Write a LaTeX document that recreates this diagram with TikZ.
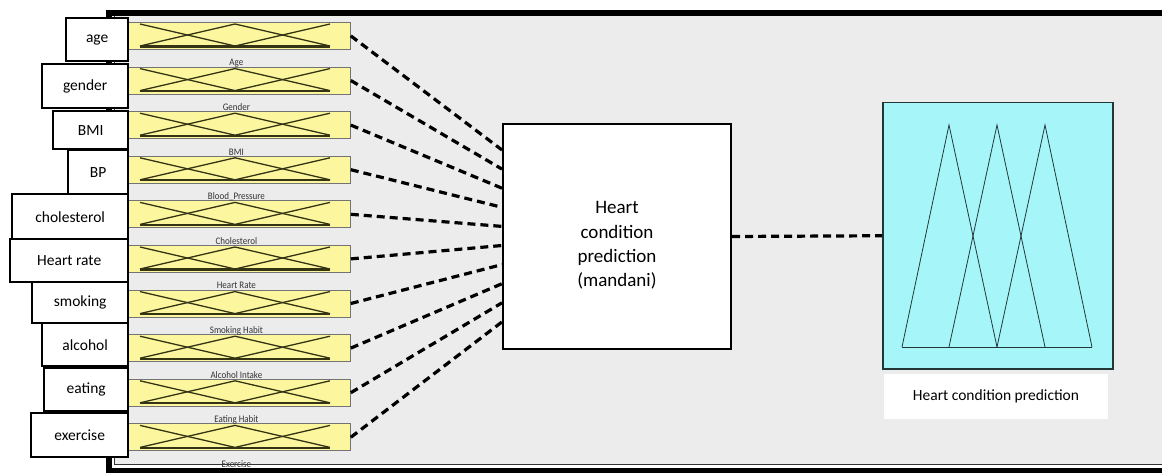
\documentclass[tikz,border=0pt]{standalone}
\usepackage{fontspec}
\setmainfont{Carlito}
\usetikzlibrary{calc}
\definecolor{panelgray}{RGB}{236,236,236}
\definecolor{mfyellow}{RGB}{252,247,158}
\definecolor{mfline}{RGB}{52,52,20}
\definecolor{outcyan}{RGB}{166,246,249}
\definecolor{outline}{RGB}{35,55,55}

\begin{document}
\begin{tikzpicture}[x=1pt,y=-1pt,
  lbl/.style={draw=black, line width=2.4pt, fill=white, inner sep=0pt, anchor=north west,
    font=\fontsize{15.5}{18}\selectfont},
  ybox/.style={draw=black!55, line width=0.8pt, fill=mfyellow, minimum width=222pt,
    minimum height=27pt, inner sep=0pt, anchor=north west},
  mfcurve/.style={draw=mfline, line width=1.3pt},
  mfbase/.style={draw=mfline, line width=2.2pt},
  tinycap/.style={font=\fontsize{10}{11}\selectfont, text=black!80, inner sep=0pt,
    xscale=0.9},
  link/.style={draw=black, line width=3.2pt, dash pattern=on 8pt off 5pt},
  fisbox/.style={draw=black, line width=2pt, fill=white, minimum width=228pt,
    minimum height=225pt, inner sep=0pt, anchor=north west},
  fistext/.style={align=center, inner sep=0pt, font=\fontsize{19}{24.3}\selectfont},
  outbox/.style={draw=outline, line width=1.5pt, fill=outcyan, minimum width=230pt,
    minimum height=266pt, inner sep=0pt, anchor=north west},
  tri/.style={draw=outline, line width=0.8pt},
  outcap/.style={fill=white, minimum width=224pt, minimum height=45pt, inner sep=0pt,
    font=\fontsize{15.5}{18}\selectfont}
]
\useasboundingbox (0,0) rectangle (1162,473);

% editor panel with its frame
\fill[panelgray] (114,16) rectangle (1162,464);
\draw[black!80, line width=0.8pt] (114,16) -- (114,464) -- (1162,464);
\fill[black] (106,10) rectangle (1162,16);
\fill[black] (106,10) rectangle (112,473);
\fill[black] (106,468) rectangle (1162,473);

% input membership-function panels
\foreach \i/\cap in {0/Age, 1/Gender, 2/BMI, 3/Blood\_Pressure, 4/Cholesterol,
                     5/Heart Rate, 6/Smoking Habit, 7/Alcohol Intake, 8/Eating Habit, 9/Exercise}{
  \pgfmathsetmacro\t{22+44.6*\i}
  \node[ybox] (y\i) at (128,\t) {};
  \draw[mfcurve] ([shift={(12,2)}]y\i.north west) -- ++(95,22);
  \draw[mfcurve] ([shift={(12,24)}]y\i.north west) -- ++(95,-22) -- ++(95,22);
  \draw[mfcurve] ([shift={(107,24)}]y\i.north west) -- ++(95,-22);
  \draw[mfbase] ([shift={(12,24.5)}]y\i.north west) -- ++(190,0);
}
\foreach \i/\cap in {0/Age, 1/Gender, 2/BMI, 3/Blood\_Pressure, 4/Cholesterol,
                     5/Heart Rate, 6/Smoking Habit, 7/Alcohol Intake, 8/Eating Habit, 9/Exercise}{
  \node[tinycap] (c\i) at ($(y\i.south)+(-3,13)$) {\cap};
}

% input variable names
\foreach \n/\xl/\yt/\yb/\txt in {0/65/17/60/age, 1/41/63/107/gender, 2/52/110/148/BMI,
    3/67/149/193/BP, 4/11/193/238/cholesterol, 5/9/238/281/Heart rate,
    6/31/281/322/smoking, 7/41/322/365/alcohol, 8/43/367/410/eating, 9/30/412/456/exercise}{
  \pgfmathsetmacro\w{127-\xl}
  \pgfmathsetmacro\h{\yb-\yt}
  \node[lbl, minimum width=\w pt, minimum height=\h pt] (lab\n) at (\xl,\yt) {\txt};
}

% inference system
\node[fisbox] (fis) at (502,123) {};
\node[fistext] (fisname) at ($(fis.center)+(0,9)$) {Heart\\condition\\prediction\\(mandani)};

% output membership functions
\node[outbox] (mf) at (882,102) {};
\draw[tri] ([shift={(20,245)}]mf.north west) -- ++(47,-222) -- ++(48,222);
\draw[tri] ([shift={(67,245)}]mf.north west) -- ++(48,-222) -- ++(48,222);
\draw[tri] ([shift={(115,245)}]mf.north west) -- ++(48,-222) -- ++(47,222);
\draw[tri] ([shift={(20,245)}]mf.north west) -- ++(190,0);
\node[outcap] (mfcap) at (996,396) {Heart condition prediction};

% connections
\foreach \i in {0,...,9}{
  \coordinate (e\i) at ($(fis.north west)+(0,27+19.1*\i)$);
  \draw[link] (y\i.east) -- (e\i);
}
\draw[link] (fis.east) -- (mf.west);
\end{tikzpicture}
\end{document}
